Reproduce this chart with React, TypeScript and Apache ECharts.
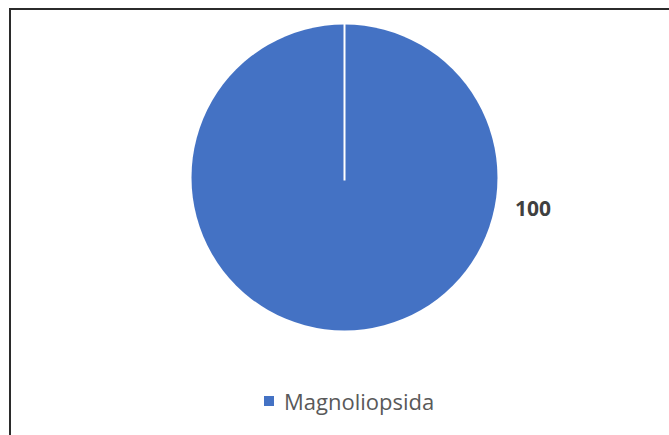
import React, { useEffect, useRef } from "react";
import * as echarts from "echarts";

const categories: string[] = ["Magnoliopsida"];
const values: number[] = [100];

export default function App() {
  const ref = useRef<HTMLDivElement>(null);
  useEffect(() => {
    if (!ref.current) return;
    const chart = echarts.init(ref.current, null, { renderer: "svg" });
    const cx = 344.5;
    const cy = 177.5;
    const r = 153;
    chart.setOption({
      animation: false,
      backgroundColor: "#ffffff",
      color: ["#4472C4"],
      legend: {
        data: categories,
        top: 385,
        left: 259,
        icon: "rect",
        itemWidth: 10,
        itemHeight: 10,
        itemGap: 10,
        textStyle: {
          fontFamily: "Open Sans",
          fontSize: 22,
          color: "#595959",
          padding: [0, 0, 0, 5],
        },
      },
      graphic: [
        {
          type: "rect",
          shape: { x: 10, y: 9, width: 760, height: 520 },
          style: { fill: "none", stroke: "#2b2b2b", lineWidth: 2 },
          z: 10,
        },
        {
          type: "line",
          shape: { x1: cx, y1: cy + 3, x2: cx, y2: cy - r - 1 },
          style: { stroke: "#ffffff", lineWidth: 2 },
          z: 10,
        },
      ],
      series: [
        {
          type: "pie",
          center: [cx, cy],
          radius: [0, r],
          startAngle: 90,
          data: categories.map((c, i) => ({ name: c, value: values[i] })),
          label: {
            show: true,
            formatter: "{c}",
            fontFamily: "Open Sans",
            fontWeight: "bold",
            fontSize: 21,
            color: "#404040",
          },
          labelLine: { show: false },
          labelLayout: () => ({ x: 533, y: 208, align: "center", verticalAlign: "middle" }),
          itemStyle: { borderWidth: 0 },
          emphasis: { disabled: true },
        },
      ],
    });
    return () => chart.dispose();
  }, []);
  return (
    <div
      ref={ref}
      style={{ position: "fixed", left: 0, top: 0, width: 669, height: 435 }}
    />
  );
}
